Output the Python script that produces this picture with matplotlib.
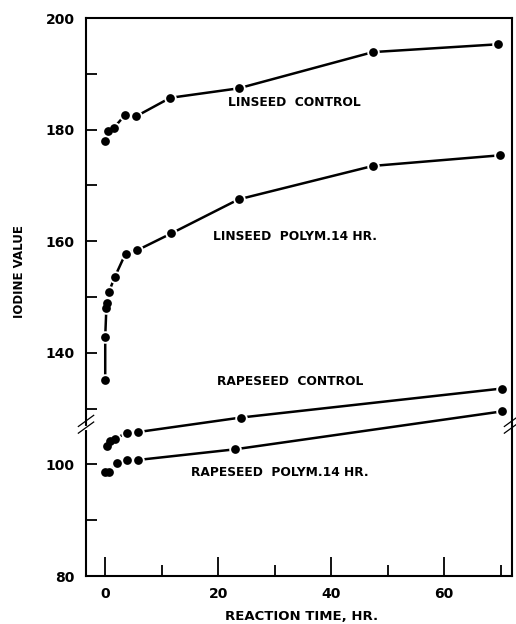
import numpy as np
import matplotlib
matplotlib.use("Agg")
import matplotlib.pyplot as plt
import matplotlib as mpl
import matplotlib.transforms as mtransforms

mpl.rcParams['font.family'] = 'DejaVu Sans'
mpl.rcParams['font.weight'] = 'bold'

# values (hours, iodine value)
lin_ctrl_t = [0.0, 0.5, 1.5, 3.5, 5.5, 11.5, 23.6, 47.4, 69.6]
lin_ctrl_iv = [178.0, 179.7, 180.3, 182.6, 182.4, 185.7, 187.4, 193.9, 195.3]

lin_pol_t = [0.0, 0.0, 0.2, 0.35, 0.65, 1.65, 3.6, 5.7, 11.7, 23.6, 47.4, 69.9]
lin_pol_iv = [135.2, 142.9, 148.0, 149.0, 150.9, 153.5, 157.8, 158.4, 161.4, 167.5, 173.5, 175.4]

rape_ctrl_t = [0.3, 0.9, 1.8, 3.8, 5.8, 24.0, 70.2]
rape_ctrl_iv = [103.3, 104.2, 104.6, 105.7, 105.8, 108.4, 113.6]

rape_pol_t = [0.0, 0.75, 2.05, 3.8, 5.8, 22.9, 70.2]
rape_pol_iv = [98.7, 98.6, 100.3, 100.8, 100.8, 102.7, 109.5]

# broken axis: lower part (80-110) drawn 20 units higher
Y_SHIFT = 20
ytick_pos = [100, 120, 140, 160, 180, 200]
ytick_lab = ["80", "100", "140", "160", "180", "200"]
yminor_pos = [110, 130, 150, 170, 190]

fig = plt.figure(figsize=(5.16, 6.24), dpi=100)
ax = fig.add_axes([0.1667, 0.0769, 0.8256, 0.8942])

shift = mtransforms.Affine2D().translate(0, Y_SHIFT) + ax.transData

series = [(lin_ctrl_t, lin_ctrl_iv, ax.transData),
          (lin_pol_t, lin_pol_iv, ax.transData),
          (rape_ctrl_t, rape_ctrl_iv, shift),
          (rape_pol_t, rape_pol_iv, shift)]

for t, iv, tr in series:
    ax.plot(t, iv, "-", color="k", lw=1.8, transform=tr, zorder=2)
for t, iv, tr in series:
    ax.plot(t, iv, "o", color="w", ms=9, mec="none", transform=tr, zorder=3)
for t, iv, tr in series:
    ax.plot(t, iv, "o", color="k", ms=6.3, mec="none", transform=tr, zorder=4)

ax.set_xlim(-3.4, 72.0)
ax.set_ylim(100, 200)

ax.set_xticks([0, 20, 40, 60])
ax.set_xticks([10, 30, 50, 70], minor=True)
ax.set_yticks(ytick_pos)
ax.set_yticklabels(ytick_lab)
ax.set_yticks(yminor_pos, minor=True)

ax.tick_params(axis="x", which="major", direction="in", length=13.5, width=1.3,
               labelsize=10, pad=8)
ax.tick_params(axis="x", which="minor", direction="in", length=8, width=1.3)
ax.tick_params(axis="y", which="both", direction="in", length=8, width=1.3,
               labelsize=10, pad=8)
for s in ax.spines.values():
    s.set_linewidth(1.5)

# break marks on both spines
for xa in (0.0, 1.0):
    for dy in (0.0, 0.012):
        ax.plot([xa - 0.018, xa + 0.018], [0.256 + dy, 0.276 + dy], color="k",
                lw=0.9, transform=ax.transAxes, clip_on=False, zorder=5)
ax.plot([-0.004, 0.004], [0.266, 0.266], color="w", lw=3, transform=ax.transAxes,
        clip_on=False, zorder=4.5)

txt = dict(fontsize=8.8, fontweight="bold", ha="left", va="center")
ax.text(21.7, 184.9, "LINSEED  CONTROL", **txt)
ax.text(19.0, 160.9, "LINSEED  POLYM.14 HR.", **txt)
ax.text(19.8, 114.8, "RAPESEED  CONTROL", transform=shift, **txt)
ax.text(15.2, 98.5, "RAPESEED  POLYM.14 HR.", transform=shift, **txt)

ax.set_ylabel("IODINE VALUE", fontsize=8.5, fontweight="bold")
ax.yaxis.set_label_coords(-0.141, 0.545)
ax.set_xlabel("REACTION TIME, HR.", fontsize=9.5, fontweight="bold")
ax.xaxis.set_label_coords(0.507, -0.061)

fig.savefig("out.png", dpi=100)
